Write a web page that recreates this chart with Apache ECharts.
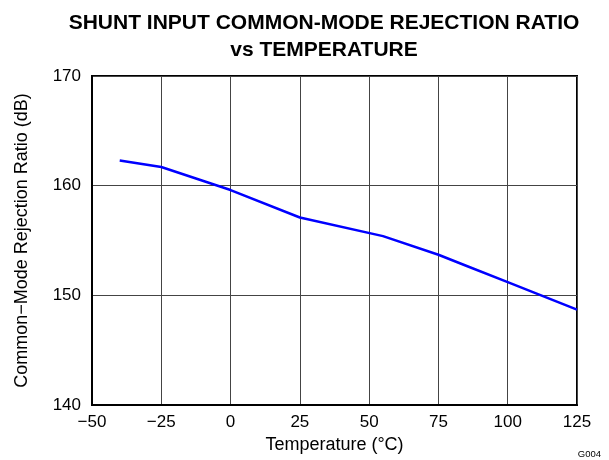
<!DOCTYPE html>
<html>
<head>
<meta charset="utf-8">
<script src="https://cdn.jsdelivr.net/npm/echarts@6/dist/echarts.min.js"></script>
<style>
  html, body { margin: 0; padding: 0; background: #fff; }
  #main { width: 609px; height: 460px; }
</style>
</head>
<body>
<div id="main"></div>
<script>
// data
var temps = [-40, -25, 0, 25, 55, 75, 85, 100, 125];
var cmrr = [162.3, 161.7, 159.6, 157.1, 155.4, 153.7, 152.7, 151.2, 148.7];
var xTicks = [-50, -25, 0, 25, 50, 75, 100, 125];
var yTicks = [140, 150, 160, 170];

var font = 'Liberation Sans, Arial, sans-serif';
var myChart = echarts.init(document.getElementById('main'));

var points = temps.map(function (t, i) { return [t, cmrr[i]]; });

var option = {
    animation: false,
    title: {
        text: 'SHUNT INPUT COMMON-MODE REJECTION RATIO\nvs TEMPERATURE',
        left: 319,
        top: 5,
        textAlign: 'center',
        textStyle: {
            fontFamily: font,
            fontSize: 21,
            fontWeight: 'bold',
            color: '#000',
            lineHeight: 27
        }
    },
    grid: {
        left: 92, right: 32, top: 76, bottom: 55,
        show: true,
        borderColor: '#000',
        borderWidth: 2
    },
    xAxis: {
        type: 'value',
        min: xTicks[0],
        max: xTicks[xTicks.length - 1],
        interval: 25,
        name: 'Temperature (°C)',
        nameLocation: 'middle',
        nameGap: 24,
        nameTextStyle: { fontFamily: font, fontSize: 18, color: '#000' },
        axisLine: { show: true, onZero: false, lineStyle: { color: '#000', width: 2 } },
        axisTick: { show: false },
        axisLabel: {
            margin: 9,
            fontFamily: font, fontSize: 17, color: '#000',
            formatter: function (v) { return v < 0 ? '\u2212' + Math.abs(v) : String(v); }
        },
        splitLine: { show: true, lineStyle: { color: '#444', width: 1 } }
    },
    yAxis: {
        type: 'value',
        min: yTicks[0],
        max: yTicks[yTicks.length - 1],
        interval: 10,
        name: 'Common\u2212Mode Rejection Ratio (dB)',
        nameLocation: 'middle',
        nameGap: 61,
        nameTextStyle: { fontFamily: font, fontSize: 18, color: '#000' },
        axisLine: { show: true, onZero: false, lineStyle: { color: '#000', width: 2 } },
        axisTick: { show: false },
        axisLabel: { margin: 11, fontFamily: font, fontSize: 17, color: '#000' },
        splitLine: { show: true, lineStyle: { color: '#444', width: 1 } }
    },
    series: [{
        type: 'line',
        data: points,
        showSymbol: false,
        smooth: false,
        lineStyle: { color: '#0000ff', width: 2.5 }
    }],
    graphic: [{
        type: 'text',
        right: 8,
        bottom: 1,
        style: { text: 'G004', fontFamily: font, fontSize: 9.5, fill: '#000' }
    }]
};

myChart.setOption(option);
</script>
</body>
</html>
